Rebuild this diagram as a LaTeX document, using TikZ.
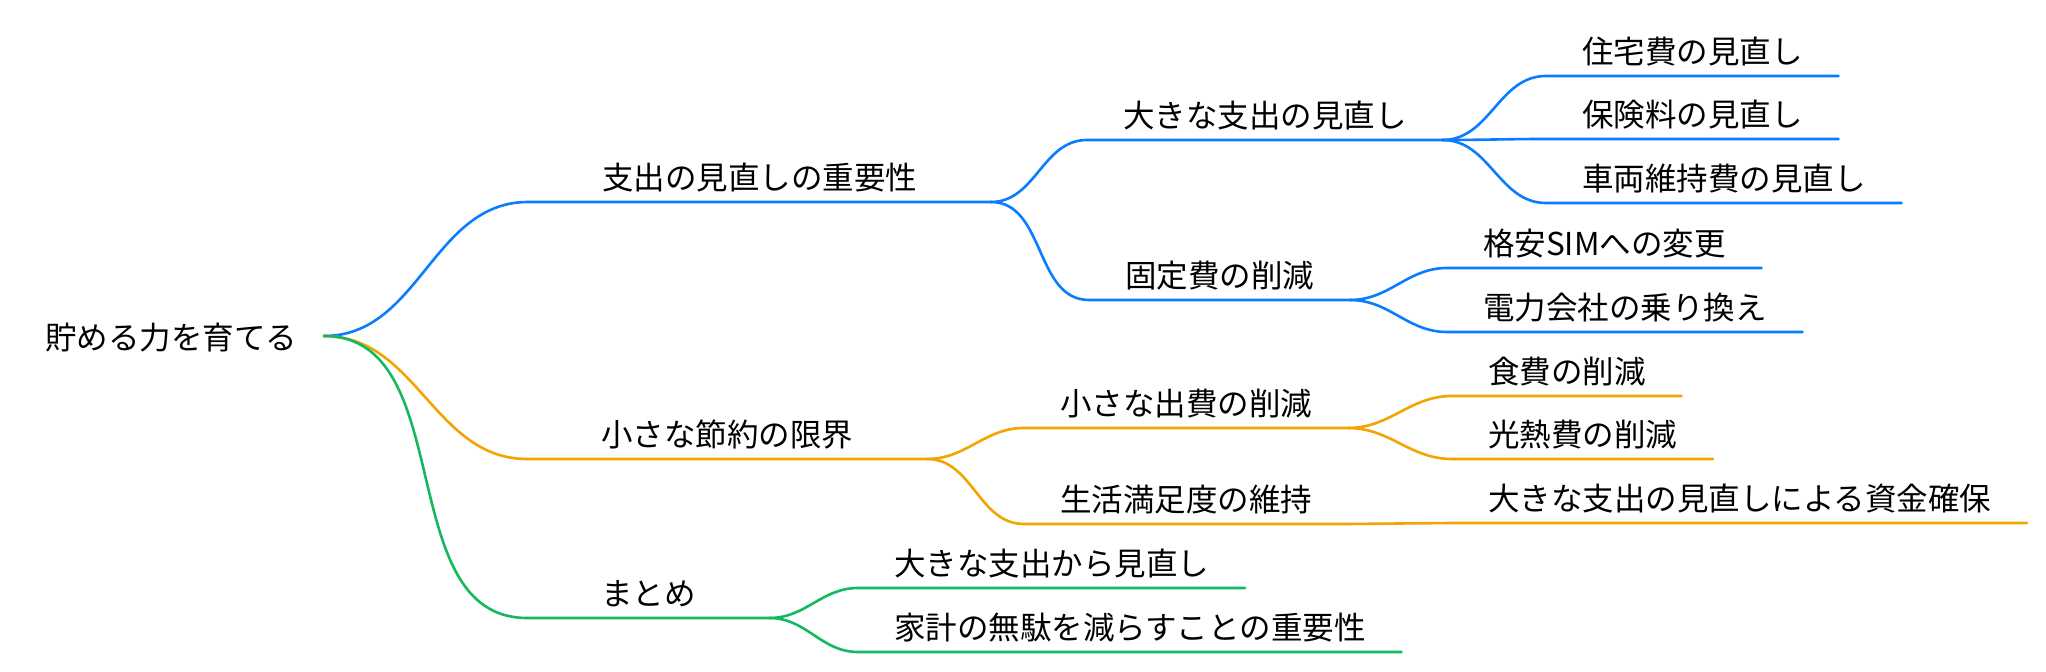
\documentclass[tikz,border=0pt]{standalone}
\usepackage{fontspec}
\setmainfont{Noto Sans CJK JP}
\definecolor{SkyBlue}{HTML}{0A7CFF}
\definecolor{Saffron}{HTML}{F2A500}
\definecolor{Jade}{HTML}{14B85E}
\usepackage{tikz}

\tikzset{
    topic/.style={anchor=south west, inner xsep=18pt, inner ysep=6pt, text depth=0pt, outer sep=0pt, font=\fontsize{15.75pt}{19pt}\selectfont},
    maintopic/.style={topic, inner xsep=37pt},
    link/.style={line width=1.3pt, line cap=round}
}

\begin{document}
\begin{tikzpicture}[x=0.5pt, y=-0.5pt]
    \useasboundingbox (0,0) rectangle (2046,672);

    % Root
    \node[anchor=base west, inner sep=0pt, font=\fontsize{15.75pt}{19pt}\selectfont] (root) at (45,350) {貯める力を育てる};
    \coordinate (hub) at (324,336);

    % Main topics
    \node[maintopic] (spend) at (528,202) {支出の見直しの重要性};
    \node[maintopic] (limit) at (527,459) {小さな節約の限界};
    \node[maintopic] (summary) at (527,618) {まとめ};

    % Second level
    \node[topic] (bigcost) at (1087,140) {大きな支出の見直し};
    \node[topic] (fixed) at (1089,300) {固定費の削減};
    \node[topic] (smallcost) at (1024,428) {小さな出費の削減};
    \node[topic] (comfort) at (1024,524) {生活満足度の維持};
    \node[topic] (startbig) at (858,588) {大きな支出から見直し};
    \node[topic] (waste) at (858,652) {家計の無駄を減らすことの重要性};

    % Third level
    \node[topic] (housing) at (1546,76) {住宅費の見直し};
    \node[topic] (insurance) at (1546,139) {保険料の見直し};
    \node[topic] (car) at (1546,203) {車両維持費の見直し};
    \node[topic] (sim) at (1447,268) {格安SIMへの変更};
    \node[topic] (power) at (1447,332) {電力会社の乗り換え};
    \node[topic] (food) at (1452,396) {食費の削減};
    \node[topic] (energy) at (1452,459) {光熱費の削減};
    \node[topic] (funds) at (1452,523) {大きな支出の見直しによる資金確保};

    % Blue branch
    \draw[link, SkyBlue] (hub) to[out=0,in=180] (spend.south west) -- (spend.south east);
    \draw[link, SkyBlue] (spend.south east) to[out=0,in=180] (bigcost.south west) -- (bigcost.south east);
    \draw[link, SkyBlue] (spend.south east) to[out=0,in=180] (fixed.south west) -- (fixed.south east);
    \draw[link, SkyBlue] (bigcost.south east) to[out=0,in=180] (housing.south west) -- (housing.south east);
    \draw[link, SkyBlue] (bigcost.south east) to[out=0,in=180] (insurance.south west) -- (insurance.south east);
    \draw[link, SkyBlue] (bigcost.south east) to[out=0,in=180] (car.south west) -- (car.south east);
    \draw[link, SkyBlue] (fixed.south east) to[out=0,in=180] (sim.south west) -- (sim.south east);
    \draw[link, SkyBlue] (fixed.south east) to[out=0,in=180] (power.south west) -- (power.south east);

    % Orange branch
    \draw[link, Saffron] (hub) to[out=0,in=180] (limit.south west) -- (limit.south east);
    \draw[link, Saffron] (limit.south east) to[out=0,in=180] (smallcost.south west) -- (smallcost.south east);
    \draw[link, Saffron] (limit.south east) to[out=0,in=180] (comfort.south west) -- (comfort.south east);
    \draw[link, Saffron] (smallcost.south east) to[out=0,in=180] (food.south west) -- (food.south east);
    \draw[link, Saffron] (smallcost.south east) to[out=0,in=180] (energy.south west) -- (energy.south east);
    \draw[link, Saffron] (comfort.south east) -- (funds.south west) -- (funds.south east);

    % Green branch
    \draw[link, Jade] (hub) to[out=0,in=180] (summary.south west) -- (summary.south east);
    \draw[link, Jade] (summary.south east) to[out=0,in=180] (startbig.south west) -- (startbig.south east);
    \draw[link, Jade] (summary.south east) to[out=0,in=180] (waste.south west) -- (waste.south east);
\end{tikzpicture}
\end{document}
